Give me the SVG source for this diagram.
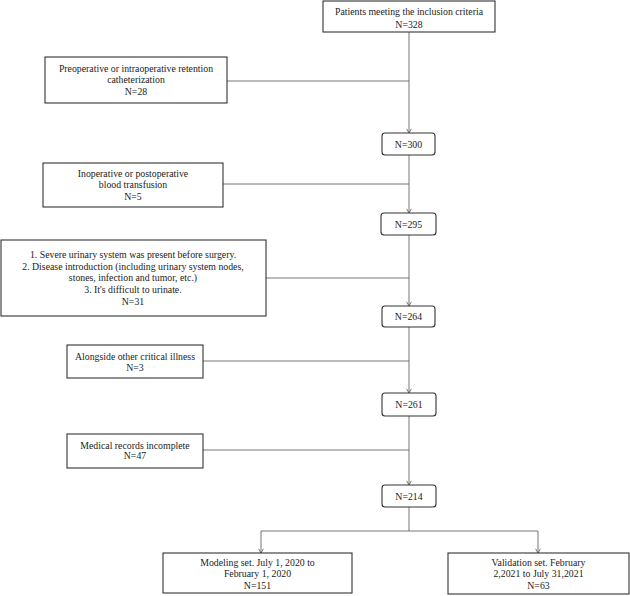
<svg xmlns="http://www.w3.org/2000/svg" width="630" height="596" viewBox="0 0 630 596">
<defs>
<marker id="arr" viewBox="0 0 10 10" refX="5" refY="10" markerWidth="6" markerHeight="6" orient="0" markerUnits="userSpaceOnUse">
<path d="M1,3 L5,10 L9,3" fill="none" stroke="#555" stroke-width="1.3"/>
</marker>
<style>
.box{fill:#fff;stroke:#333;stroke-width:1.1}
.t{font-family:"Liberation Serif","Times New Roman",serif;font-size:9.8px;fill:#222;text-anchor:middle}
.c{fill:none;stroke:#666;stroke-width:0.9}
</style>
</defs>
<g id="connectors">
<line class="c" x1="409" y1="32" x2="409" y2="133" marker-end="url(#arr)"/>
<line class="c" x1="227" y1="81" x2="409" y2="81"/>
<line class="c" x1="409" y1="155" x2="409" y2="213" marker-end="url(#arr)"/>
<line class="c" x1="223" y1="184" x2="409" y2="184"/>
<line class="c" x1="409" y1="235" x2="409" y2="306" marker-end="url(#arr)"/>
<line class="c" x1="266" y1="278" x2="409" y2="278"/>
<line class="c" x1="409" y1="327" x2="409" y2="393" marker-end="url(#arr)"/>
<line class="c" x1="203" y1="361" x2="409" y2="361"/>
<line class="c" x1="409" y1="416" x2="409" y2="485" marker-end="url(#arr)"/>
<line class="c" x1="203" y1="450" x2="409" y2="450"/>
<line class="c" x1="409" y1="507" x2="409" y2="531"/>
<line class="c" x1="261" y1="531" x2="538" y2="531"/>
<line class="c" x1="261" y1="531" x2="261" y2="553" marker-end="url(#arr)"/>
<line class="c" x1="538" y1="531" x2="538" y2="553" marker-end="url(#arr)"/>
</g>
<g id="n328">
<rect class="box" x="323" y="1" width="172" height="31"/>
<text class="t" x="409" y="14.5">Patients meeting the inclusion criteria</text>
<text class="t" x="409" y="27.5">N=328</text>
</g>
<g id="ex28">
<rect class="box" x="45" y="57" width="182" height="46"/>
<text class="t" x="136" y="71.5">Preoperative or intraoperative retention</text>
<text class="t" x="136" y="83">catheterization</text>
<text class="t" x="136" y="95">N=28</text>
</g>
<g id="n300">
<rect class="box" x="382" y="133" width="53" height="22" rx="3"/>
<text class="t" x="408.5" y="147.5">N=300</text>
</g>
<g id="ex5">
<rect class="box" x="43" y="163" width="180" height="44"/>
<text class="t" x="133" y="176.5">Inoperative or postoperative</text>
<text class="t" x="133" y="188">blood transfusion</text>
<text class="t" x="133" y="200">N=5</text>
</g>
<g id="n295">
<rect class="box" x="381" y="213" width="55" height="22" rx="3"/>
<text class="t" x="408.5" y="227.5">N=295</text>
</g>
<g id="ex31">
<rect class="box" x="1" y="240" width="265" height="76"/>
<text class="t" x="133" y="257.5">1. Severe urinary system was present before surgery.</text>
<text class="t" x="133" y="269.5">2. Disease introduction (including urinary system nodes,</text>
<text class="t" x="133" y="281">stones, infection and tumor, etc.)</text>
<text class="t" x="133" y="292.5">3. It's difficult to urinate.</text>
<text class="t" x="133" y="304.5">N=31</text>
</g>
<g id="n264">
<rect class="box" x="382" y="306" width="53" height="21" rx="3"/>
<text class="t" x="408.5" y="320">N=264</text>
</g>
<g id="ex3">
<rect class="box" x="67" y="345" width="136" height="33"/>
<text class="t" x="135" y="359.5">Alongside other critical illness</text>
<text class="t" x="135" y="370.5">N=3</text>
</g>
<g id="n261">
<rect class="box" x="382" y="393" width="54" height="23" rx="3"/>
<text class="t" x="409" y="407.5">N=261</text>
</g>
<g id="ex47">
<rect class="box" x="67" y="434" width="136" height="34"/>
<text class="t" x="135" y="448.5">Medical records incomplete</text>
<text class="t" x="135" y="459">N=47</text>
</g>
<g id="n214">
<rect class="box" x="382" y="485" width="54" height="22" rx="3"/>
<text class="t" x="409" y="499.5">N=214</text>
</g>
<g id="model">
<rect class="box" x="163" y="553" width="189" height="40"/>
<text class="t" x="257.5" y="565.5">Modeling set. July 1, 2020 to</text>
<text class="t" x="257.5" y="577">February 1, 2020</text>
<text class="t" x="257.5" y="588.5">N=151</text>
</g>
<g id="valid">
<rect class="box" x="448" y="553" width="181" height="41"/>
<text class="t" x="538.5" y="565.5">Validation set. February</text>
<text class="t" x="538.5" y="577">2,2021 to July 31,2021</text>
<text class="t" x="538.5" y="588.5">N=63</text>
</g>
</svg>
